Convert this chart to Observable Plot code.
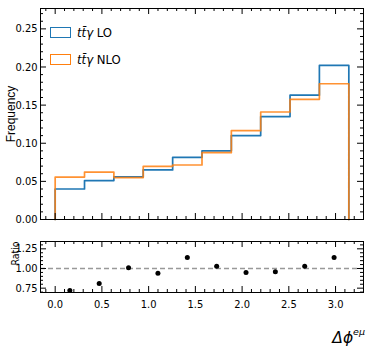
<!DOCTYPE html>
<html>
<head>
<meta charset="utf-8">
<script src="https://cdn.jsdelivr.net/npm/d3@7"></script>
<script src="https://cdn.jsdelivr.net/npm/@observablehq/plot@0.6"></script>
<style>
  html, body { margin: 0; padding: 0; background: #fff; }
  #wrap { position: relative; width: 367px; height: 350px; font-family: "Liberation Sans Narrow", "DejaVu Sans Condensed", "Liberation Sans", sans-serif; color: #000; }
  .panel { position: absolute; left: 0; }
  .leg { position: absolute; font-size: 13px; line-height: 1; white-space: nowrap; }
  .box { position: absolute; width: 19px; height: 9px; border-width: 1.5px; border-style: solid; }
</style>
</head>
<body>
<div id="wrap">
  <div id="top" class="panel" style="top:0"></div>
  <div id="bot" class="panel" style="top:228px"></div>
  <div class="box" style="left:50px;top:27px;border-color:#1f77b4"></div>
  <div class="leg" style="left:77px;top:26px"><i>tt̄γ</i> LO</div>
  <div class="box" style="left:50px;top:54px;border-color:#ff7f0e"></div>
  <div class="leg" style="left:77px;top:53px"><i>tt̄γ</i> NLO</div>
  <div class="leg" style="right:2px;top:329px;font-size:15.5px;font-family:'DejaVu Sans',sans-serif"><i>Δϕ</i><sup style="font-size:9.5px;position:relative;top:-2px"><i>eμ</i></sup></div>
</div>
<script>
// Bin edges of Δφ^{eμ} (0 to π, 10 bins)
const binEdges = [0, 0.314, 0.628, 0.942, 1.257, 1.571, 1.885, 2.199, 2.513, 2.827, 3.142];
// Normalised frequencies
const loValues  = [0.040, 0.051, 0.056, 0.065, 0.0815, 0.090, 0.110, 0.135, 0.163, 0.202];
const nloValues = [0.0557, 0.0622, 0.055, 0.0696, 0.0715, 0.0876, 0.1165, 0.141, 0.1576, 0.178];
// Ratio LO / NLO
const ratioValues = [0.72, 0.81, 1.01, 0.94, 1.14, 1.03, 0.95, 0.96, 1.03, 1.14];
// Tick values
const xMajorTicks = [0, 0.5, 1.0, 1.5, 2.0, 2.5, 3.0];
const xMinorTicks = d3.range(-1, 33).map(i => i / 10).filter(v => Math.abs(v * 2 - Math.round(v * 2)) > 1e-6);
const yMajorTicks = [0, 0.05, 0.10, 0.15, 0.20, 0.25];
const yMinorTicks = d3.range(0, 28).map(i => i / 100).filter(v => Math.abs(v * 20 - Math.round(v * 20)) > 1e-6);
const rMajorTicks = [0.75, 1.00, 1.25];
const rMinorTicks = [0.70, 0.80, 0.85, 0.90, 0.95, 1.05, 1.10, 1.15, 1.20, 1.30];

const xDomain = [-0.157, 3.299];
const font = '"Liberation Sans Narrow", "DejaVu Sans Condensed", "Liberation Sans", sans-serif';

function stepPoints(values) {
  const pts = [{x: binEdges[0], y: 0}];
  values.forEach((v, i) => { pts.push({x: binEdges[i], y: v}); });
  pts.push({x: binEdges[binEdges.length - 1], y: values[values.length - 1]});
  pts.push({x: binEdges[binEdges.length - 1], y: 0});
  return pts;
}
function frameTicks(W, H, xMaj, xMin, yMaj, yMin) {
  const M = 6, m = 3;
  return [
    Plot.tickX(xMaj, {x: d => d, insetTop: H - M, stroke: "black"}),
    Plot.tickX(xMaj, {x: d => d, insetBottom: H - M, stroke: "black"}),
    Plot.tickX(xMin, {x: d => d, insetTop: H - m, stroke: "black"}),
    Plot.tickX(xMin, {x: d => d, insetBottom: H - m, stroke: "black"}),
    Plot.tickY(yMaj, {y: d => d, insetRight: W - M, stroke: "black"}),
    Plot.tickY(yMaj, {y: d => d, insetLeft: W - M, stroke: "black"}),
    Plot.tickY(yMin, {y: d => d, insetRight: W - m, stroke: "black"}),
    Plot.tickY(yMin, {y: d => d, insetLeft: W - m, stroke: "black"})
  ];
}

// Top panel
{
  const width = 367, height = 228, mL = 40, mR = 4, mT = 8, mB = 9;
  const W = width - mL - mR, H = height - mT - mB;
  const top = Plot.plot({
    width, height, marginLeft: mL, marginRight: mR, marginTop: mT, marginBottom: mB,
    style: {fontSize: "11px", fontFamily: font, background: "white", overflow: "visible"},
    x: {domain: xDomain, axis: null},
    y: {domain: [0, 0.2767], axis: null},
    marks: [
      Plot.line(stepPoints(loValues), {x: "x", y: "y", stroke: "#1f77b4", strokeWidth: 1.7, curve: "step-after"}),
      Plot.line(stepPoints(nloValues), {x: "x", y: "y", stroke: "#ff7f0e", strokeWidth: 1.7, strokeOpacity: 0.85, curve: "step-after"}),
      Plot.axisY({ticks: yMajorTicks, tickSize: 0, tickPadding: 3, tickFormat: d3.format(".2f"), label: null}),
      Plot.text(["Frequency"], {text: d => d, frameAnchor: "left", rotate: -90, dx: -29, fontSize: 12, fontFamily: '"Liberation Sans", sans-serif', textAnchor: "middle"}),
      ...frameTicks(W, H, xMajorTicks, xMinorTicks, yMajorTicks, yMinorTicks),
      Plot.frame({stroke: "black", strokeWidth: 1})
    ]
  });
  document.getElementById("top").appendChild(top);
}

// Ratio panel
{
  const width = 367, height = 122, mL = 40, mR = 4, mT = 13, mB = 58;
  const W = width - mL - mR, H = height - mT - mB;
  const centers = ratioValues.map((r, i) => ({x: (binEdges[i] + binEdges[i + 1]) / 2, r}));
  const bot = Plot.plot({
    width, height, marginLeft: mL, marginRight: mR, marginTop: mT, marginBottom: mB,
    style: {fontSize: "11px", fontFamily: font, background: "white", overflow: "visible"},
    x: {domain: xDomain, axis: null},
    y: {domain: [0.695, 1.343], axis: null},
    marks: [
      Plot.ruleY([1], {stroke: "#999999", strokeWidth: 1.5, strokeDasharray: "5,3"}),
      Plot.dot(centers, {x: "x", y: "r", r: 2.5, fill: "black", stroke: "none"}),
      Plot.axisY({ticks: rMajorTicks, tickSize: 0, tickPadding: 3, tickFormat: d3.format(".2f"), label: null}),
      Plot.axisX({ticks: xMajorTicks, tickSize: 0, tickPadding: 8, tickFormat: d3.format(".1f"), label: null}),
      Plot.text(["Ratio"], {text: d => d, frameAnchor: "top-left", rotate: -90, dx: -29, dy: 12, fontSize: 10.5, textAnchor: "middle"}),
      ...frameTicks(W, H, xMajorTicks, xMinorTicks, rMajorTicks, rMinorTicks),
      Plot.frame({stroke: "black", strokeWidth: 1})
    ]
  });
  document.getElementById("bot").appendChild(bot);
}
</script>
</body>
</html>
